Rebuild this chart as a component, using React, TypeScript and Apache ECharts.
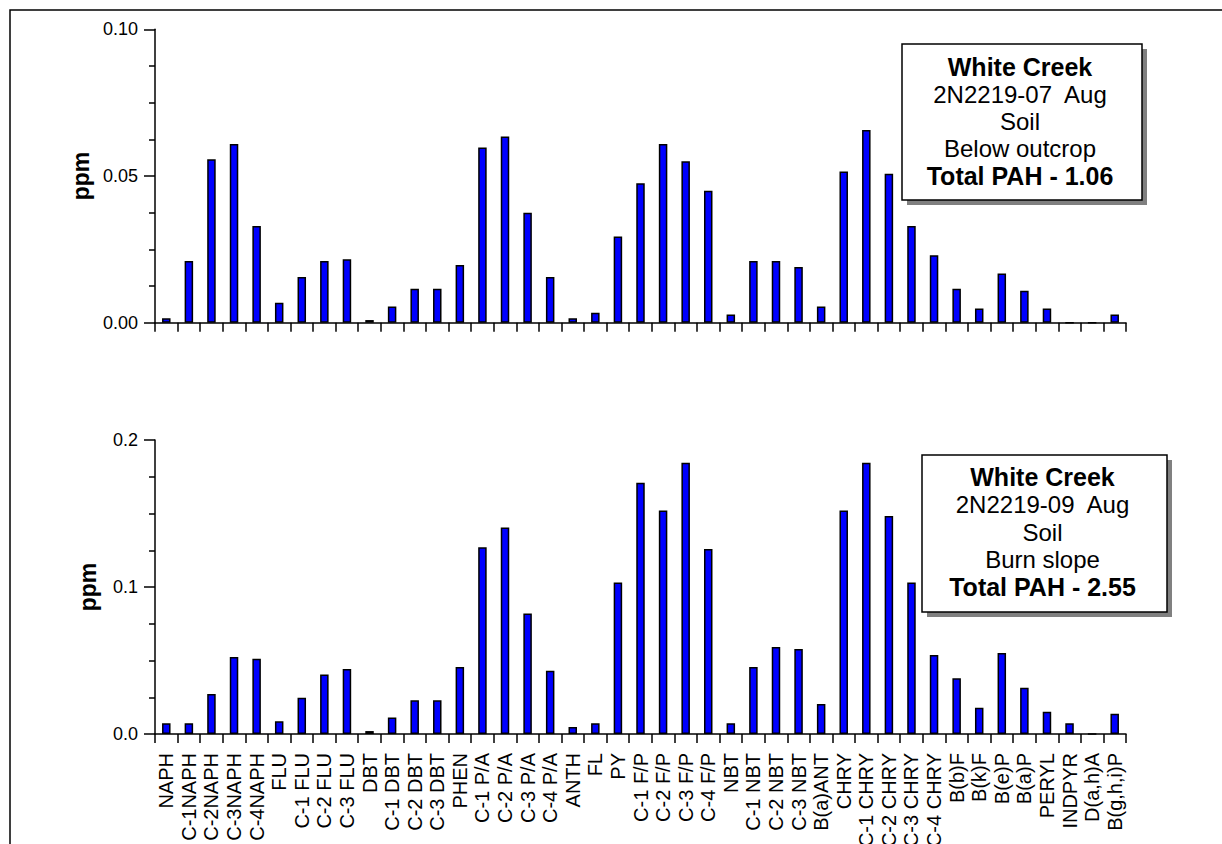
import React, { useEffect, useRef } from "react";
import * as echarts from "echarts";

const categories = [
  "NAPH", "C-1NAPH", "C-2NAPH", "C-3NAPH", "C-4NAPH",
  "FLU", "C-1 FLU", "C-2 FLU", "C-3 FLU",
  "DBT", "C-1 DBT", "C-2 DBT", "C-3 DBT",
  "PHEN", "C-1 P/A", "C-2 P/A", "C-3 P/A", "C-4 P/A",
  "ANTH", "FL", "PY", "C-1 F/P", "C-2 F/P", "C-3 F/P", "C-4 F/P",
  "NBT", "C-1 NBT", "C-2 NBT", "C-3 NBT",
  "B(a)ANT", "CHRY", "C-1 CHRY", "C-2 CHRY", "C-3 CHRY", "C-4 CHRY",
  "B(b)F", "B(k)F", "B(e)P", "B(a)P", "PERYL", "INDPYR", "D(a,h)A", "B(g,h,i)P",
];

const topValues = [
  0.0015, 0.021, 0.0557, 0.0609, 0.033,
  0.0068, 0.0156, 0.021, 0.0216,
  0.0009, 0.0055, 0.0116, 0.0116,
  0.0197, 0.0597, 0.0635, 0.0375, 0.0156,
  0.0015, 0.0034, 0.0294, 0.0475, 0.0609, 0.055, 0.045,
  0.0028, 0.021, 0.021, 0.019,
  0.0055, 0.0515, 0.0657, 0.0508, 0.033, 0.023,
  0.0116, 0.0048, 0.0168, 0.0109, 0.0048, 0, 0, 0.0028,
];

const bottomValues = [
  0.0073, 0.0073, 0.0272, 0.0524, 0.0512,
  0.0086, 0.0247, 0.0404, 0.0442,
  0.002, 0.0113, 0.0229, 0.0229,
  0.0456, 0.127, 0.1404, 0.0819, 0.0431,
  0.0048, 0.0073, 0.103, 0.171, 0.152, 0.1846, 0.1259,
  0.0073, 0.0456, 0.0592, 0.0578,
  0.0204, 0.152, 0.1846, 0.1483, 0.103, 0.0537,
  0.0379, 0.0179, 0.0551, 0.0315, 0.0152, 0.0073, 0, 0.0138,
];

const topTickLabels = ["0.00", "0.05", "0.10"];
const bottomTickLabels = ["0.0", "0.1", "0.2"];
const yAxisTitle = "ppm";

const topLegendLines = ["White Creek", "2N2219-07\u00a0 Aug", "Soil", "Below outcrop", "Total PAH - 1.06"];
const bottomLegendLines = ["White Creek", "2N2219-09\u00a0 Aug", "Soil", "Burn slope", "Total PAH - 2.55"];
const boldLines = [true, false, false, false, true];

const FONT = '"Liberation Sans", Arial, Helvetica, sans-serif';

function legendBox(x: number, y: number, w: number, h: number, lines: string[], firstY: number, step: number) {
  const cx = x + w / 2 - 2;
  const els: any[] = [
    { type: "rect", z: 100, shape: { x: x + 5, y: y + 5, width: w, height: h }, style: { fill: "#808080" } },
    { type: "rect", z: 101, shape: { x, y, width: w, height: h }, style: { fill: "#ffffff", stroke: "#000", lineWidth: 1.5 } },
  ];
  lines.forEach((t, i) => {
    els.push({
      type: "text",
      z: 102,
      x: cx,
      y: firstY + step * i,
      style: {
        text: t,
        fill: "#000",
        fontFamily: FONT,
        fontSize: boldLines[i] ? 25 : 24,
        fontWeight: boldLines[i] ? "bold" : "normal",
        align: "center",
        verticalAlign: "middle",
        textAlign: "center",
        textVerticalAlign: "middle",
      },
    });
  });
  return els;
}

export default function App() {
  const ref = useRef<HTMLDivElement>(null);

  useEffect(() => {
    document.body.style.margin = "0";
    if (!ref.current) return;
    const chart = echarts.init(ref.current, undefined, { renderer: "svg" });

    const axisLineStyle = { color: "#000", width: 1.5 };
    const makeX = (gridIndex: number, showLabels: boolean) => ({
      type: "category",
      gridIndex,
      data: categories,
      boundaryGap: true,
      axisLine: { show: true, lineStyle: axisLineStyle },
      axisTick: { show: true, length: 9, lineStyle: axisLineStyle, interval: 0 },
      axisLabel: {
        show: showLabels,
        interval: 0,
        rotate: 90,
        margin: 19,
        fontSize: 20,
        fontFamily: FONT,
        color: "#000",
      },
      splitLine: { show: false },
    });
    const makeY = (gridIndex: number, max: number, interval: number, labels: string[]) => ({
      type: "value",
      gridIndex,
      min: 0,
      max,
      interval,
      name: yAxisTitle,
      nameLocation: "middle",
      nameRotate: 90,
      nameGap: 56,
      nameTextStyle: { fontSize: 23, fontWeight: "bold", fontFamily: FONT, color: "#000" },
      axisLine: { show: true, lineStyle: axisLineStyle },
      axisTick: { show: true, length: 11, lineStyle: axisLineStyle },
      minorTick: { show: true, splitNumber: 4, length: 6, lineStyle: { color: "#000", width: 1.5 } },
      axisLabel: {
        margin: 17,
        fontSize: 18,
        fontFamily: FONT,
        color: "#000",
        formatter: (v: number) => labels[Math.round(v / interval)] ?? "",
      },
      splitLine: { show: false },
    });

    const barStyle = { color: "#0000ff", borderColor: "#000", borderWidth: 1.5 };

    chart.setOption({
      animation: false,
      backgroundColor: "#ffffff",
      grid: [
        { left: 155, top: 29.3, width: 971, height: 293.4, containLabel: false, outerBoundsMode: "none" },
        { left: 155, top: 440, width: 971, height: 294, containLabel: false, outerBoundsMode: "none" },
      ],
      xAxis: [makeX(0, false), makeX(1, true)],
      yAxis: [
        makeY(0, 0.1, 0.05, topTickLabels),
        makeY(1, 0.2, 0.1, bottomTickLabels),
      ],
      series: [
        { type: "bar", xAxisIndex: 0, yAxisIndex: 0, data: topValues, barWidth: 8.5, itemStyle: barStyle },
        { type: "bar", xAxisIndex: 1, yAxisIndex: 1, data: bottomValues, barWidth: 8.5, itemStyle: barStyle },
      ],
      graphic: [
        { type: "rect", z: 99, shape: { x: 10, y: 10, width: 1400, height: 1000 }, style: { fill: "none", stroke: "#000", lineWidth: 1.5 } },
        ...legendBox(902, 44, 240, 156, topLegendLines, 67, 27.2),
        ...legendBox(922, 455, 245, 157, bottomLegendLines, 477, 27.5),
      ],
    });

    return () => chart.dispose();
  }, []);

  return <div ref={ref} style={{ width: 1222, height: 844, display: "block" }} />;
}
